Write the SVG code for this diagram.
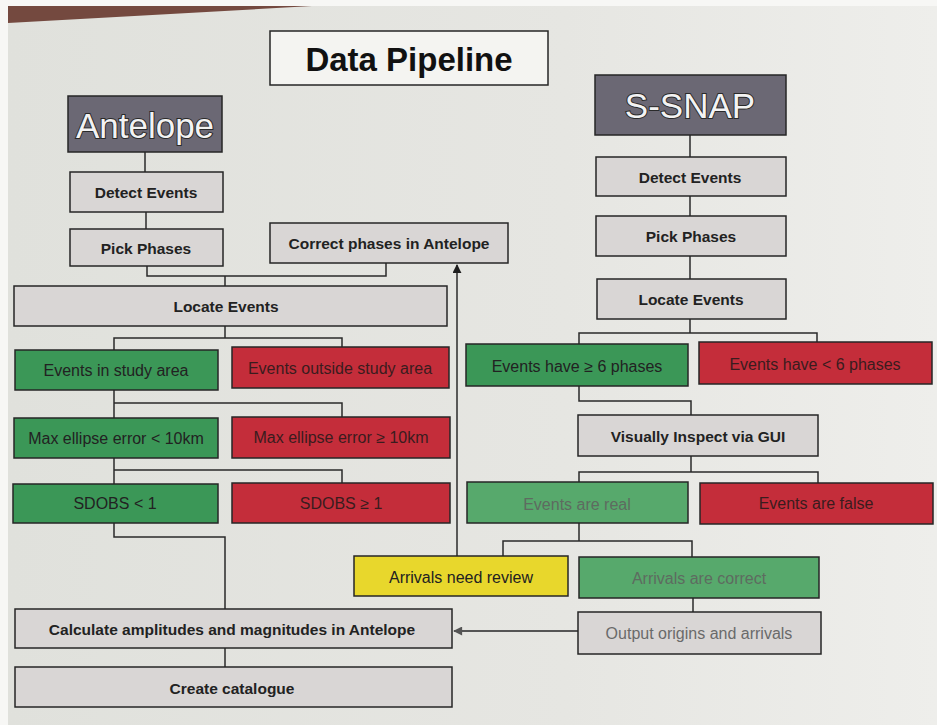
<svg xmlns="http://www.w3.org/2000/svg" width="937" height="725" viewBox="0 0 937 725">
  <defs>
    <linearGradient id="paper" x1="0" y1="0" x2="1" y2="0">
      <stop offset="0" stop-color="#e0e1dc"/>
      <stop offset="0.6" stop-color="#e6e6e2"/>
      <stop offset="1" stop-color="#eeeeeb"/>
    </linearGradient>
    <marker id="arrowUp" viewBox="0 0 10 10" refX="9" refY="5" markerWidth="9" markerHeight="9" markerUnits="userSpaceOnUse" orient="auto">
      <path d="M0,0 L10,5 L0,10 Z" fill="#1e1e1e"/>
    </marker>
    <marker id="arrowGray" viewBox="0 0 10 10" refX="9" refY="5" markerWidth="10" markerHeight="9" markerUnits="userSpaceOnUse" orient="auto">
      <path d="M0,0 L10,5 L0,10 Z" fill="#555"/>
    </marker>
    <style>
      .box { stroke: #262626; stroke-width: 1.5; }
      .head { fill: #6b6874; }
      .grey { fill: #d9d6d5; }
      .green { fill: #3b9757; }
      .green2 { fill: #57a96c; }
      .red { fill: #c42d3a; }
      .yellow { fill: #e8d72c; }
      .plain { fill: #f4f4f1; }
      text { font-family: "Liberation Sans", Arial, sans-serif; text-anchor: middle; dominant-baseline: central; }
      .b { font-weight: bold; font-size: 15.5px; fill: #222; }
      .n { font-size: 16px; fill: #222; }
      .nr { font-size: 16px; fill: #3a1c1e; }
      .dim { font-size: 16px; fill: #5e6b60; }
      .out { font-size: 16px; fill: #6a6a6a; }
      .hd { font-size: 35px; fill: #f3f3f3; stroke: #2a2a2a; stroke-width: 2; paint-order: stroke; }
      .title { font-weight: bold; font-size: 33px; fill: #111; }
      .ln { fill: none; stroke: #2a2a2a; stroke-width: 1.5; }
    </style>
  </defs>

  <!-- paper and background -->
  <rect x="0" y="0" width="937" height="725" fill="#f7f7f5"/>
  <rect x="8" y="6" width="929" height="719" fill="url(#paper)"/>
  <polygon points="8,6 312,6 8,23" fill="#74493f"/>

  <!-- connectors -->
  <g id="connectors">
    <!-- Antelope branch -->
    <path class="ln" d="M145,152 V172"/>
    <path class="ln" d="M146,212 V229"/>
    <path class="ln" d="M147,266 V276 H386 V263"/>
    <path class="ln" d="M225,276 V286"/>
    <path class="ln" d="M225,326 V338"/>
    <path class="ln" d="M114,350 V338 H342 V347"/>
    <path class="ln" d="M114,390 V418"/>
    <path class="ln" d="M114,403 H342 V417"/>
    <path class="ln" d="M114,458 V484"/>
    <path class="ln" d="M114,470 H342 V483"/>
    <path class="ln" d="M114,523 V537 H225 V609"/>
    <path class="ln" d="M225,648 V667"/>
    <!-- S-SNAP branch -->
    <path class="ln" d="M690,135 V157"/>
    <path class="ln" d="M690,196 V216"/>
    <path class="ln" d="M690,256 V279"/>
    <path class="ln" d="M690,319 V333"/>
    <path class="ln" d="M579,344 V333 H817 V342"/>
    <path class="ln" d="M579,386 V401 H691 V415"/>
    <path class="ln" d="M691,456 V472"/>
    <path class="ln" d="M579,482 V472 H818 V483"/>
    <path class="ln" d="M579,523 V541"/>
    <path class="ln" d="M503,556 V541 H692 V557"/>
    <path class="ln" d="M693,598 V612"/>
    <!-- feedback and hand-off arrows -->
    <path class="ln" d="M457,556 V265" marker-end="url(#arrowUp)"/>
    <path d="M578,631 H454" fill="none" stroke="#555" stroke-width="1.8" marker-end="url(#arrowGray)"/>
  </g>

  <!-- title -->
  <g id="title">
    <rect class="box plain" x="270" y="31" width="278" height="54"/>
    <text class="title" x="409" y="59">Data Pipeline</text>
  </g>

  <!-- Antelope column -->
  <g id="antelope">
    <rect class="box head" x="68" y="96" width="154" height="56"/>
    <text class="hd" x="145" y="125">Antelope</text>
  </g>
  <g id="a-detect">
    <rect class="box grey" x="70" y="172" width="153" height="40"/>
    <text class="b" x="146" y="192">Detect Events</text>
  </g>
  <g id="a-pick">
    <rect class="box grey" x="70" y="229" width="153" height="37"/>
    <text class="b" x="146" y="248">Pick Phases</text>
  </g>
  <g id="correct-phases">
    <rect class="box grey" x="270" y="223" width="238" height="40"/>
    <text class="b" x="389" y="243">Correct phases in Antelope</text>
  </g>
  <g id="a-locate">
    <rect class="box grey" x="14" y="286" width="433" height="40"/>
    <text class="b" x="226" y="306">Locate Events</text>
  </g>
  <g id="in-area">
    <rect class="box green" x="15" y="350" width="203" height="40"/>
    <text class="n" x="116" y="370">Events in study area</text>
  </g>
  <g id="out-area">
    <rect class="box red" x="232" y="347" width="217" height="41"/>
    <text class="nr" x="340" y="368">Events outside study area</text>
  </g>
  <g id="ellipse-ok">
    <rect class="box green" x="14" y="418" width="204" height="40"/>
    <text class="n" x="116" y="438">Max ellipse error &lt; 10km</text>
  </g>
  <g id="ellipse-bad">
    <rect class="box red" x="232" y="417" width="218" height="41"/>
    <text class="nr" x="341" y="437">Max ellipse error ≥ 10km</text>
  </g>
  <g id="sdobs-ok">
    <rect class="box green" x="13" y="484" width="205" height="39"/>
    <text class="n" x="115" y="503">SDOBS &lt; 1</text>
  </g>
  <g id="sdobs-bad">
    <rect class="box red" x="232" y="483" width="218" height="40"/>
    <text class="nr" x="341" y="503">SDOBS ≥ 1</text>
  </g>
  <g id="magnitudes">
    <rect class="box grey" x="15" y="609" width="437" height="39"/>
    <text class="b" x="232" y="629">Calculate amplitudes and magnitudes in Antelope</text>
  </g>
  <g id="catalogue">
    <rect class="box grey" x="15" y="667" width="437" height="40"/>
    <text class="b" x="232" y="688">Create catalogue</text>
  </g>

  <!-- S-SNAP column -->
  <g id="ssnap">
    <rect class="box head" x="595" y="75" width="191" height="60"/>
    <text class="hd" x="690" y="105">S-SNAP</text>
  </g>
  <g id="s-detect">
    <rect class="box grey" x="596" y="157" width="190" height="39"/>
    <text class="b" x="690" y="177">Detect Events</text>
  </g>
  <g id="s-pick">
    <rect class="box grey" x="596" y="216" width="190" height="40"/>
    <text class="b" x="691" y="236">Pick Phases</text>
  </g>
  <g id="s-locate">
    <rect class="box grey" x="597" y="279" width="189" height="40"/>
    <text class="b" x="691" y="299">Locate Events</text>
  </g>
  <g id="phases-ok">
    <rect class="box green" x="466" y="344" width="222" height="42"/>
    <text class="n" x="577" y="366">Events have ≥ 6 phases</text>
  </g>
  <g id="phases-bad">
    <rect class="box red" x="699" y="342" width="233" height="42"/>
    <text class="nr" x="815" y="364">Events have &lt; 6 phases</text>
  </g>
  <g id="inspect">
    <rect class="box grey" x="578" y="415" width="240" height="41"/>
    <text class="b" x="698" y="436">Visually Inspect via GUI</text>
  </g>
  <g id="real">
    <rect class="box green2" x="467" y="482" width="221" height="41"/>
    <text class="dim" x="577" y="504">Events are real</text>
  </g>
  <g id="false">
    <rect class="box red" x="700" y="483" width="233" height="41"/>
    <text class="nr" x="816" y="503">Events are false</text>
  </g>
  <g id="review">
    <rect class="box yellow" x="354" y="556" width="214" height="40"/>
    <text class="n" x="461" y="577">Arrivals need review</text>
  </g>
  <g id="arrivals-ok">
    <rect class="box green2" x="579" y="557" width="240" height="41"/>
    <text class="dim" x="699" y="578">Arrivals are correct</text>
  </g>
  <g id="output">
    <rect class="box grey" x="578" y="612" width="243" height="42"/>
    <text class="out" x="699" y="633">Output origins and arrivals</text>
  </g>
</svg>
